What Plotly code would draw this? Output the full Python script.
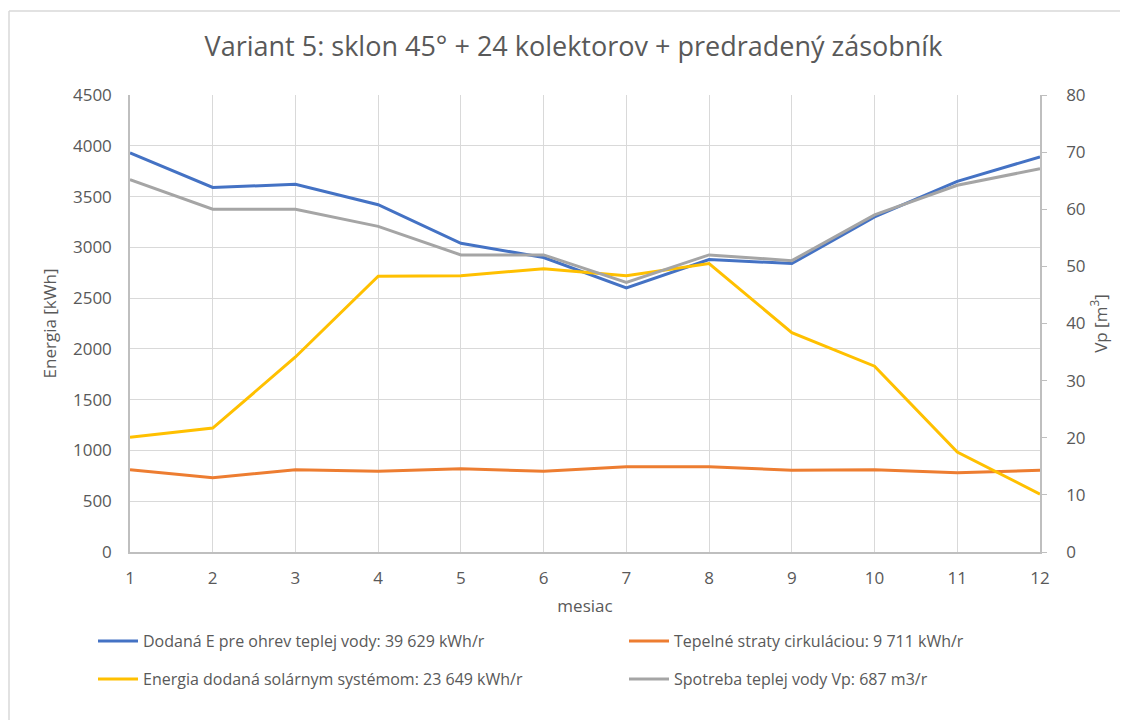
import plotly.graph_objects as go

months = list(range(1, 13))
dodana_e = [3930, 3590, 3620, 3420, 3040, 2900, 2600, 2880, 2840, 3300, 3650, 3890]
straty = [810, 730, 810, 795, 820, 795, 840, 840, 805, 810, 780, 805]
solar = [1130, 1220, 1920, 2715, 2720, 2790, 2720, 2840, 2160, 1830, 985, 570]
vp = [65.2, 60, 60, 57, 52, 52, 47.2, 52, 51, 59, 64.2, 67.1]

names = [
    "Dodaná E pre ohrev teplej vody: 39 629 kWh/r",
    "Tepelné straty cirkuláciou: 9 711 kWh/r",
    "Energia dodaná solárnym systémom: 23 649 kWh/r",
    "Spotreba teplej vody Vp: 687 m3/r",
]
colors = ["#4472C4", "#ED7D31", "#FFC000", "#A5A5A5"]

OFF = 8  # page body margin
W, H = 1128 - 2 * OFF, 728 - 2 * OFF


def px(v):
    return v - OFF


L, R, T, B = px(130), px(1040), px(95), px(552)
FONT = "Open Sans"
TXT = "#595959"

fig = go.Figure()
series = [(dodana_e, "y"), (straty, "y"), (solar, "y"), (vp, "y2")]
legends = ["legend", "legend2", "legend3", "legend4"]
for (vals, ax), nm, col, lg in zip(series, names, colors, legends):
    fig.add_trace(go.Scatter(x=months, y=vals, name=nm, mode="lines",
                             line=dict(color=col, width=3), yaxis=ax, legend=lg))

leg_pos = [(97, 641), (628, 641), (97, 679), (628, 679)]
leg_layout = {}
for lg, (lx, ly) in zip(legends, leg_pos):
    leg_layout[lg] = dict(
        xref="container", yref="container",
        x=(px(lx) - 4) / W, y=1 - px(ly) / H, xanchor="left", yanchor="middle",
        font=dict(family=FONT, size=16, color=TXT),
        bgcolor="rgba(0,0,0,0)", borderwidth=0, orientation="h", itemwidth=40,
    )

fig.update_layout(
    width=W, height=H,
    margin=dict(l=L, r=W - R, t=T, b=H - B, autoexpand=False),
    paper_bgcolor="white", plot_bgcolor="white",
    showlegend=True,
    title=dict(text="Variant 5: sklon 45° + 24 kolektorov + predradený zásobník",
               x=px((207 + 940) / 2) / W, xanchor="center", xref="container",
               y=1 - px(47) / H, yanchor="middle", yref="container",
               font=dict(family=FONT, size=27, color=TXT)),
    font=dict(family=FONT, color=TXT),
    xaxis=dict(range=[1, 12], tickvals=months, showgrid=True, gridcolor="#D9D9D9", gridwidth=1,
               showline=True, linecolor="#BFBFBF", linewidth=1.5, zeroline=False,
               ticks="", ticklabelstandoff=10,
               tickfont=dict(family=FONT, size=17, color=TXT),
               title=dict(text="mesiac", font=dict(family=FONT, size=17, color=TXT), standoff=12)),
    yaxis=dict(range=[0, 4500], dtick=500, showgrid=True, gridcolor="#D9D9D9", gridwidth=1,
               showline=True, linecolor="#BFBFBF", linewidth=1.5, zeroline=False,
               ticks="", ticklabelstandoff=13,
               tickfont=dict(family=FONT, size=17, color=TXT),
               title=dict(text="Energia [kWh]", font=dict(family=FONT, size=17, color=TXT), standoff=12)),
    yaxis2=dict(range=[0, 80], dtick=10, overlaying="y", side="right", showgrid=False,
                showline=True, linecolor="#BFBFBF", linewidth=1.5, zeroline=False,
                ticks="outside", ticklen=5, tickcolor="#BFBFBF", ticklabelstandoff=16,
                tickfont=dict(family=FONT, size=17, color=TXT),
                title=dict(text="Vp [m<sup>3</sup>]", font=dict(family=FONT, size=17, color=TXT), standoff=10)),
    **leg_layout,
)

# outer chart border: only left and top edges are visible in the reference
bx0 = (px(9) - L) / (R - L)
bx1 = (px(1300) - L) / (R - L)
by_top = (B - px(11)) / (B - T)
by_bot = (B - px(900)) / (B - T)
border = dict(color="#D9D9D9", width=1.5)
fig.add_shape(type="line", xref="paper", yref="paper", x0=bx0, x1=bx0, y0=by_bot, y1=by_top,
              line=border, layer="below")
fig.add_shape(type="line", xref="paper", yref="paper", x0=bx0, x1=bx1, y0=by_top, y1=by_top,
              line=border, layer="below")

fig.write_html("out.html")
